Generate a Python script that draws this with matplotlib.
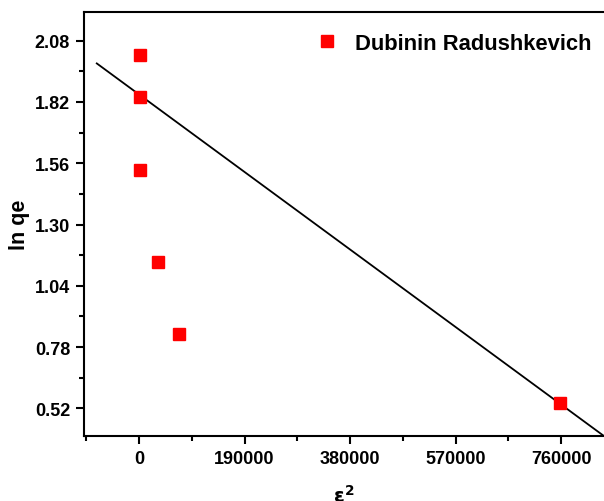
import numpy as np
import matplotlib.pyplot as plt

plt.rcParams['font.family'] = ['Liberation Sans', 'DejaVu Sans']
plt.rcParams['font.weight'] = 'bold'

# D-R isotherm points: epsilon^2 vs ln qe
eps2 = [1000, 1000, 1000, 33700, 72000, 757700]
ln_qe = [2.021, 1.842, 1.531, 1.142, 0.835, 0.5425]

# fitted line parameters
slope = -1.732e-6
intercept = 1.852
fit_x = [-76000, 900000]

xticks = [0, 190000, 380000, 570000, 760000]
yticks = [0.52, 0.78, 1.04, 1.30, 1.56, 1.82, 2.08]

fig = plt.figure(figsize=(6.04, 5.02), dpi=100)
ax = fig.add_axes([84 / 604, 65 / 502, 520 / 604, 424 / 502])

ax.plot(eps2, ln_qe, 's', color='#ff0000', markersize=9, label='Dubinin Radushkevich', zorder=3)
fx = np.array(fit_x)
ax.plot(fx, intercept + slope * fx, color='black', linewidth=1.3, zorder=2)

ax.set_xlim(-99000, 837000)
ax.set_ylim(0.4025, 2.2018)
ax.set_xticks(xticks)
ax.set_xticklabels([str(t) for t in xticks])
ax.set_xticks([-95000, 95000, 285000, 475000, 665000], minor=True)
ax.set_yticks(yticks)
ax.set_yticklabels(['%.2f' % t for t in yticks])
ax.set_yticks([0.65, 0.91, 1.17, 1.43, 1.69, 1.95], minor=True)

ax.tick_params(which='major', direction='out', length=6, width=1.5, labelsize=13, pad=4)
ax.tick_params(which='minor', direction='out', length=3.5, width=1.5)
for lab in ax.get_xticklabels() + ax.get_yticklabels():
    lab.set_fontweight('bold')
for side in ['left', 'bottom', 'top']:
    ax.spines[side].set_linewidth(1.5)
ax.spines['right'].set_visible(False)

ax.set_xlabel(r'$\mathbf{\varepsilon^2}$', fontsize=14, labelpad=12)
ax.set_ylabel('ln qe', fontsize=15.5, fontweight='bold')
ax.yaxis.set_label_coords(19 / 604, 225 / 502 * -1 + 1, transform=fig.transFigure)
ax.yaxis.label.set_verticalalignment('center')

ax.legend(loc='center left', frameon=False, fontsize=15.8, handletextpad=0.55,
          markerscale=1.0, handlelength=1.4, borderaxespad=0, borderpad=0,
          bbox_to_anchor=(312 / 604, 1 - 44 / 502), bbox_transform=fig.transFigure)

fig.savefig('out.png', dpi=100)
